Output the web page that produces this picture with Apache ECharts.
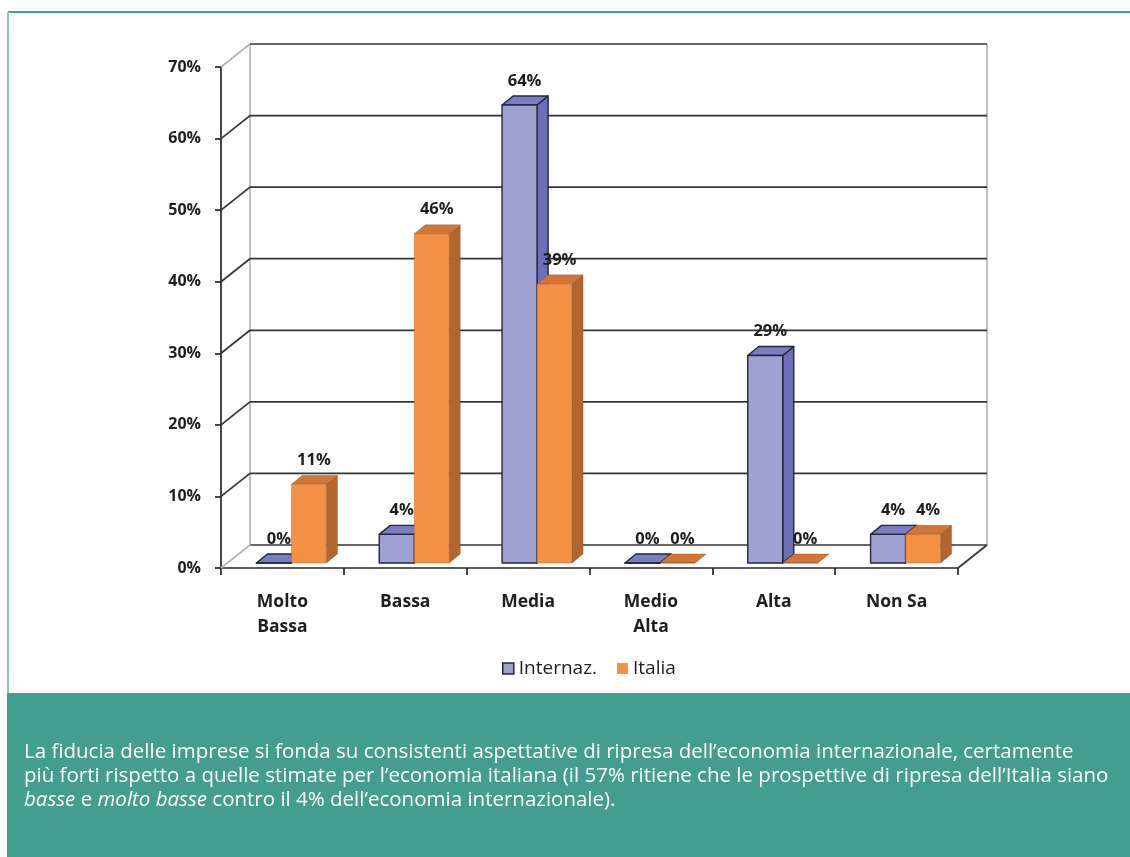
<!DOCTYPE html>
<html>
<head>
<meta charset="utf-8">
<script src="https://cdn.jsdelivr.net/npm/echarts@6/dist/echarts.min.js"></script>
<style>
  html, body { margin: 0; padding: 0; background: #ffffff; }
  #chart { width: 1130px; height: 857px; }
</style>
</head>
<body>
<div id="chart"></div>
<script>
// Fiducia nella ripresa: economia internazionale vs italiana
const categories = ['Molto\nBassa', 'Bassa', 'Media', 'Medio\nAlta', 'Alta', 'Non Sa'];
const internaz = [0, 4, 64, 0, 29, 4];
const italia = [11, 46, 39, 0, 0, 4];
const yTicks = [0, 10, 20, 30, 40, 50, 60, 70];
const seriesNames = ['Internaz.', 'Italia'];
const captionLines = [
  'La fiducia delle imprese si fonda su consistenti aspettative di ripresa dell’economia internazionale, certamente',
  'più forti rispetto a quelle stimate per l’economia italiana (il 57% ritiene che le prospettive di ripresa dell’Italia siano',
  '{i|basse} e {i|molto basse} contro il 4% dell’economia internazionale).'
];

// pseudo-3D geometry (pixels)
const WALL_DEPTH = [29, -23];
const BAR_SHIFT = [9, -5];
const BAR_DEPTH = [11, -9];
const BAR_RATIO = 0.285;

const FACES = [
  { front: '#a0a1d3', top: '#7b7dc3', side: '#6d70b8', stroke: '#26263a', lw: 1.4 },
  { front: '#f59047', top: '#cf7638', side: '#b3652f', stroke: 'rgba(120,60,20,0.35)', lw: 0.8 }
];

const yMin = yTicks[0], yMax = yTicks[yTicks.length - 1];

function renderWall(params, api) {
  const cs = params.coordSys;
  const v = api.value(1);
  const y = api.coord([0, v])[1];
  const x0 = cs.x, x1 = cs.x + cs.width;
  const dx = WALL_DEPTH[0], dy = WALL_DEPTH[1];
  const dark = { stroke: '#353535', lineWidth: 1.7 };
  const light = { stroke: '#b4b4b4', lineWidth: 1.7 };
  const edge = (v === yMin || v === yMax);
  const children = [
    { type: 'line', shape: { x1: x0, y1: y, x2: x0 + dx, y2: y + dy }, style: edge ? light : dark },
    { type: 'line', shape: { x1: x0 + dx, y1: y + dy, x2: x1 + dx, y2: y + dy }, style: dark }
  ];
  if (v === yMin) {
    const yTop = api.coord([0, yMax])[1];
    children.push({ type: 'line', shape: { x1: x0 + dx, y1: y + dy, x2: x0 + dx, y2: yTop + dy }, style: light });
    children.push({ type: 'line', shape: { x1: x1 + dx, y1: y + dy, x2: x1 + dx, y2: yTop + dy }, style: light });
    children.push({ type: 'line', shape: { x1: x1, y1: y, x2: x1 + dx, y2: y + dy }, style: dark });
  }
  return { type: 'group', children };
}

function barRenderer(sIdx) {
  const f = FACES[sIdx];
  return function (params, api) {
    const idx = api.value(0), val = api.value(1);
    const base = api.coord([idx, 0]);
    const top = api.coord([idx, val]);
    const catW = api.size([1, 0])[0];
    const bw = catW * BAR_RATIO;
    const L = base[0] + BAR_SHIFT[0] + (sIdx === 0 ? -bw : 0);
    const R = L + bw;
    const B = base[1] + BAR_SHIFT[1];
    const T = top[1] + BAR_SHIFT[1];
    const dx = BAR_DEPTH[0], dy = BAR_DEPTH[1];
    const st = { stroke: f.stroke, lineWidth: f.lw, lineJoin: 'round' };
    return {
      type: 'group',
      children: [
        { type: 'polygon', shape: { points: [[R, T], [R + dx, T + dy], [R + dx, B + dy], [R, B]] },
          style: Object.assign({ fill: f.side }, st) },
        { type: 'polygon', shape: { points: [[L, T], [L + dx, T + dy], [R + dx, T + dy], [R, T]] },
          style: Object.assign({ fill: f.top }, st) },
        { type: 'rect', shape: { x: L, y: T, width: bw, height: B - T },
          style: Object.assign({ fill: f.front }, st) },
        { type: 'text', x: (L + R) / 2 + 5, y: T - 24,
          style: { text: val + '%', fill: '#1e1e1e', font: 'bold 16.5px "Open Sans"', align: 'center', verticalAlign: 'middle' } }
      ]
    };
  };
}

const chart = echarts.init(document.getElementById('chart'), null, { renderer: 'canvas' });

chart.setOption({
  animation: false,
  backgroundColor: '#ffffff',
  grid: { left: 221, right: 172, top: 67, bottom: 289, containLabel: false },
  legend: {
    data: [
      { name: seriesNames[0], itemStyle: { color: FACES[0].front, borderColor: '#26263a', borderWidth: 1.5 } },
      { name: seriesNames[1], itemStyle: { color: FACES[1].front, borderWidth: 0 } }
    ],
    left: 497, top: 654,
    icon: 'rect', itemWidth: 11, itemHeight: 11, itemGap: 20,
    textStyle: { fontFamily: 'Open Sans', fontSize: 19, color: '#1e1e1e', padding: [0, 0, 0, 0] }
  },
  xAxis: {
    type: 'category',
    data: categories,
    axisLine: { lineStyle: { color: '#262626', width: 1.7 } },
    axisTick: { show: true, length: 7, lineStyle: { color: '#262626', width: 1.7 } },
    axisLabel: { interval: 0, fontFamily: 'Open Sans', fontWeight: 'bold', fontSize: 17.5, color: '#1e1e1e', lineHeight: 25, margin: 22 },
    splitLine: { show: false }
  },
  yAxis: {
    type: 'value',
    min: yMin, max: yMax, interval: 10,
    axisLine: { show: true, lineStyle: { color: '#262626', width: 1.7 } },
    axisTick: { show: true, length: 6, lineStyle: { color: '#262626', width: 1.7 } },
    axisLabel: { formatter: '{value}%', fontFamily: 'Open Sans', fontWeight: 'bold', fontSize: 16, color: '#1e1e1e', margin: 20 },
    splitLine: { show: false }
  },
  series: [
    { type: 'custom', name: 'walls', silent: true, z: 1, renderItem: renderWall,
      data: yTicks.map(v => [0, v]), encode: { x: 0, y: 1 } },
    { type: 'custom', name: seriesNames[0], z: 3, renderItem: barRenderer(0),
      itemStyle: { color: FACES[0].front },
      data: internaz.map((v, i) => [i, v]), encode: { x: 0, y: 1 } },
    { type: 'custom', name: seriesNames[1], z: 4, renderItem: barRenderer(1),
      itemStyle: { color: FACES[1].front },
      data: italia.map((v, i) => [i, v]), encode: { x: 0, y: 1 } }
  ],
  graphic: [
    { type: 'line', shape: { x1: 8, y1: 12, x2: 1130, y2: 12 }, style: { stroke: '#3ea391', lineWidth: 2 } },
    { type: 'line', shape: { x1: 8, y1: 12, x2: 8, y2: 694 }, style: { stroke: '#84cbbd', lineWidth: 2 } },
    { type: 'rect', shape: { x: 7, y: 693, width: 1123, height: 164 }, style: { fill: '#439e8f' } },
    { type: 'text', x: 24, y: 740,
      style: {
        text: captionLines.join('\n'),
        fill: '#ffffff',
        font: '20.5px "Open Sans"',
        lineHeight: 24,
        rich: { i: { fontStyle: 'italic', fontFamily: 'Open Sans', fontSize: 20.5, fill: '#ffffff', lineHeight: 24 } }
      } }
  ]
});
</script>
</body>
</html>
